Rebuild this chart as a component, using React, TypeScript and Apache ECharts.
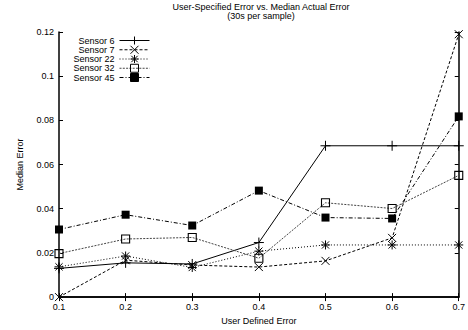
import React, { useEffect, useRef } from "react";
import * as echarts from "echarts";

const categories = ["0.1", "0.2", "0.3", "0.4", "0.5", "0.6", "0.7"];
const sensor6 = [0.013, 0.0155, 0.015, 0.0247, 0.0685, 0.0685, 0.0685];
const sensor7 = [0.0, 0.0167, 0.0145, 0.0136, 0.0164, 0.0268, 0.119];
const sensor22 = [0.0137, 0.0186, 0.0134, 0.0208, 0.0236, 0.0236, 0.0236];
const sensor32 = [0.0197, 0.0263, 0.027, 0.0176, 0.0427, 0.0401, 0.0551];
const sensor45 = [0.0306, 0.0373, 0.0324, 0.0482, 0.036, 0.0356, 0.0818];
const seriesNames = ["Sensor 6", "Sensor 7", "Sensor 22", "Sensor 32", "Sensor 45"];
const yMin = 0;
const yMax = 0.12;
const yStep = 0.02;
const titleText = "User-Specified Error vs. Median Actual Error\n(30s per sample)";
const xName = "User Defined Error";
const yName = "Median Error";

const FONT = "Liberation Sans, Arial, Helvetica, sans-serif";
const PLUS = "path://M5 0V10M0 5H10";
const CROSS = "path://M0 0L10 10M10 0L0 10";
const STAR = "path://M5 0V10M0 5H10M1 1L9 9M9 1L1 9";
const OPEN_SQ = "path://M0 0H10V10H0Z";

const seriesData = [sensor6, sensor7, sensor22, sensor32, sensor45];
const seriesStyle = [
  { symbol: PLUS, size: 10, dash: "solid" as any, color: "#000", fill: "#000", bw: 1 },
  { symbol: CROSS, size: 8, dash: [3, 2], color: "#000", fill: "#000", bw: 1 },
  { symbol: STAR, size: 9, dash: [1, 2], color: "#000", fill: "#000", bw: 1 },
  { symbol: OPEN_SQ, size: 8, dash: [2, 1.3], color: "#444", fill: "transparent", bw: 1.1 },
  { symbol: "rect", size: 8, dash: [4, 2, 1, 2], color: "#000", fill: "#000", bw: 0 },
];

export default function App() {
  const ref = useRef<HTMLDivElement>(null);
  useEffect(() => {
    const chart = echarts.init(ref.current!, null, { renderer: "svg" });
    const axisLine = { show: true, lineStyle: { color: "#000", width: 1.5 } };
    const tick = { show: true, inside: true, length: 4, lineStyle: { color: "#000", width: 1 } };
    const labelStyle = { color: "#000", fontSize: 9, fontFamily: FONT };
    chart.setOption({
      animation: false,
      backgroundColor: "#fff",
      textStyle: { fontFamily: FONT },
      grid: { left: 59, right: 5, top: 32, bottom: 32.5, containLabel: false },
      graphic: [
        {
          type: "text",
          x: 261,
          y: 2,
          style: {
            text: titleText,
            align: "center",
            textAlign: "center",
            fontSize: 9,
            lineHeight: 9,
            fontFamily: FONT,
            fill: "#000",
          },
        },
      ],
      legend: {
        orient: "vertical",
        align: "right",
        right: 318,
        top: 36,
        padding: 0,
        itemWidth: 30,
        itemHeight: 10,
        itemGap: 0.25,
        textStyle: { color: "#000", fontSize: 9, fontFamily: FONT },
        itemStyle: { borderWidth: 1 },
        lineStyle: { width: 1 },
        data: seriesNames,
      },
      xAxis: [
        {
          type: "category",
          data: categories,
          boundaryGap: false,
          position: "bottom",
          axisLine,
          axisTick: tick,
          axisLabel: { ...labelStyle, margin: 5, alignMaxLabel: "center", alignMinLabel: "center" },
          splitLine: { show: false },
          name: xName,
          nameLocation: "middle",
          nameGap: 18,
          nameTextStyle: { color: "#000", fontSize: 9, fontFamily: FONT },
        },
        {
          type: "category",
          data: categories,
          boundaryGap: false,
          position: "top",
          axisLine,
          axisTick: tick,
          axisLabel: { show: false },
          splitLine: { show: false },
        },
      ],
      yAxis: [
        {
          type: "value",
          min: yMin,
          max: yMax,
          interval: yStep,
          position: "left",
          axisLine,
          axisTick: tick,
          axisLabel: { ...labelStyle, margin: 5 },
          splitLine: { show: false },
          name: yName,
          nameLocation: "middle",
          nameRotate: 90,
          nameGap: 35,
          nameTextStyle: { color: "#000", fontSize: 9, fontFamily: FONT },
        },
        {
          type: "value",
          min: yMin,
          max: yMax,
          interval: yStep,
          position: "right",
          axisLine,
          axisTick: tick,
          axisLabel: { show: false },
          splitLine: { show: false },
        },
      ],
      series: seriesNames.map((name, i) => ({
        name,
        type: "line",
        data: seriesData[i],
        xAxisIndex: 0,
        yAxisIndex: 0,
        clip: false,
        symbol: seriesStyle[i].symbol,
        symbolSize: seriesStyle[i].size,
        showSymbol: true,
        showAllSymbol: true,
        lineStyle: { color: seriesStyle[i].color, width: 1, type: seriesStyle[i].dash },
        itemStyle: { color: seriesStyle[i].fill, borderColor: "#000", borderWidth: seriesStyle[i].bw },
        emphasis: { disabled: true },
      })),
    });
    return () => chart.dispose();
  }, []);
  return (
    <div
      ref={ref}
      style={{ position: "absolute", left: 0, top: 0, width: 468, height: 330, background: "#fff" }}
    />
  );
}
